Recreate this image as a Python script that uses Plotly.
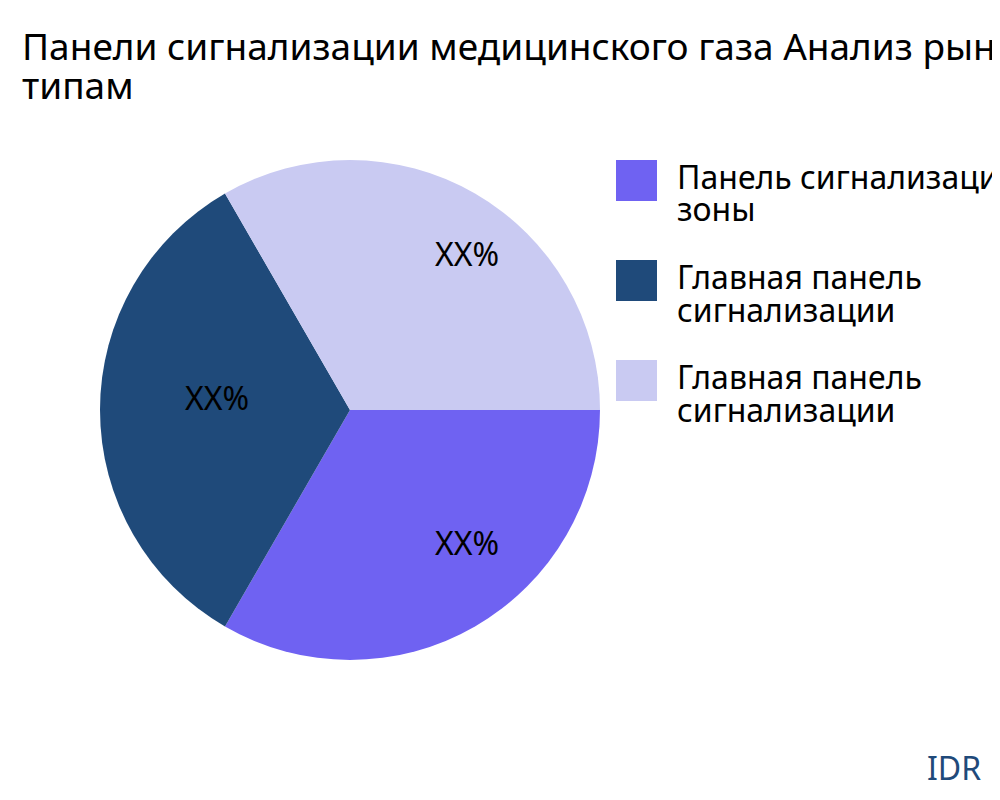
import math
import plotly.graph_objects as go

# data
labels = ["Панель сигнализации зоны", "Главная панель сигнализации", "Главная панель сигнализации "]
legend_lines = [["Панель сигнализации", "зоны"],
                ["Главная панель", "сигнализации"],
                ["Главная панель", "сигнализации"]]
values = [1, 1, 1]
slice_text = ["XX%", "XX%", "XX%"]
colors = ["#6F62F2", "#1F4A7A", "#C9CAF2"]

title_lines = ["Панели сигнализации медицинского газа Анализ рынка по", "типам"]
source = "IDR"

font = "Noto Sans"
W, H = 1000, 800

# pie placement (paper fractions)
dom_x = [0.092, 0.592]
dom_y = [0.185, 0.81]
rotation = 90


def px(x):
    return x / W


def py(y):
    return 1 - y / H


fig = go.Figure()
fig.add_trace(go.Pie(
    labels=labels,
    values=values,
    textinfo="none",
    marker=dict(colors=colors),
    sort=False,
    direction="clockwise",
    rotation=rotation,
    domain=dict(x=dom_x, y=dom_y),
    showlegend=False,
    hoverinfo="label+percent",
))

# slice labels: start at 2/3 of the radius along each slice's middle angle
cx = (dom_x[0] + dom_x[1]) / 2 * W
cy = (1 - (dom_y[0] + dom_y[1]) / 2) * H
radius = (dom_x[1] - dom_x[0]) * W / 2
total = sum(values)
cum = 0
for v, t in zip(values, slice_text):
    mid = math.radians(90 - rotation - 360 * (cum + v / 2) / total)
    cum += v
    lx = cx + radius * 2 / 3 * math.cos(mid)
    ly = cy - radius * 2 / 3 * math.sin(mid)
    fig.add_annotation(xref="paper", yref="paper", x=px(lx), y=py(ly - 12),
                       xanchor="left", yanchor="middle", text=t, showarrow=False,
                       font=dict(size=32, color="black", family=font))

# title, one annotation per line to keep the tight line spacing
for j, line in enumerate(title_lines):
    fig.add_annotation(xref="paper", yref="paper", x=px(12), y=py(37 + 40 * j),
                       xanchor="left", yanchor="middle", text=line, showarrow=False,
                       font=dict(size=37, color="black", family=font))

# hand-drawn legend with large swatches
for i, (lines, col) in enumerate(zip(legend_lines, colors)):
    top = 152 + i * 100
    fig.add_shape(type="rect", xref="paper", yref="paper",
                  x0=px(608), x1=px(649), y0=py(top + 41), y1=py(top),
                  fillcolor=col, line=dict(width=0))
    for j, line in enumerate(lines):
        fig.add_annotation(xref="paper", yref="paper",
                           x=px(667), y=py(top + 17 + 32 * j),
                           xanchor="left", yanchor="middle", align="left",
                           text=line, showarrow=False,
                           font=dict(size=32, color="black", family=font))

fig.add_annotation(xref="paper", yref="paper", x=px(975), y=py(759),
                   xanchor="right", yanchor="middle", text=source, showarrow=False,
                   font=dict(size=32, color="#1F4A7A", family=font))

fig.update_layout(
    width=W, height=H,
    margin=dict(l=0, r=0, t=0, b=0),
    paper_bgcolor="white",
    plot_bgcolor="white",
)

fig.write_html("out.html")
